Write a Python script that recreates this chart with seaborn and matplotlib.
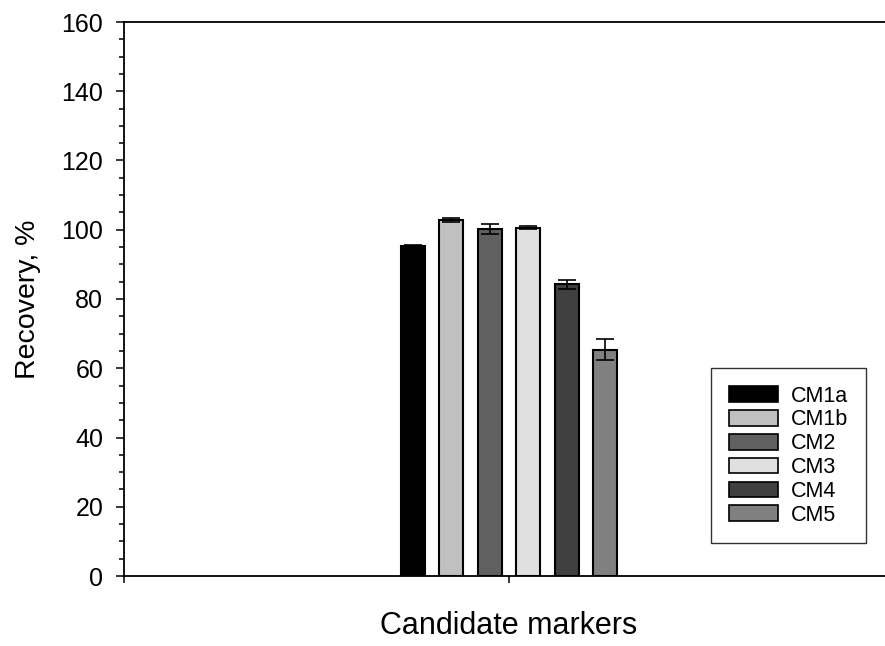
import matplotlib
matplotlib.use("Agg")
import matplotlib.pyplot as plt
import seaborn as sns
import pandas as pd
from matplotlib.ticker import MultipleLocator

markers = ["CM1a", "CM1b", "CM2", "CM3", "CM4", "CM5"]
recovery = [95.2, 102.7, 100.2, 100.6, 84.3, 65.4]
errors = [0.5, 0.6, 1.35, 0.5, 1.3, 3.0]
colors = ["#000000", "#c0c0c0", "#606060", "#e0e0e0", "#404040", "#808080"]
group = [""] * len(markers)

df = pd.DataFrame({"group": group, "marker": markers, "recovery": recovery})

sns.set_style("ticks")
plt.rcParams["font.family"] = ["Liberation Sans", "DejaVu Sans"]
plt.rcParams["text.color"] = "black"
plt.rcParams["axes.labelcolor"] = "black"
plt.rcParams["xtick.color"] = "black"
plt.rcParams["ytick.color"] = "black"

fig = plt.figure(figsize=(8.85, 6.46), dpi=100)
ax = fig.add_axes([124 / 885, 1 - 576 / 646, 770 / 885, 554 / 646])

sns.barplot(data=df, x="group", y="recovery", hue="marker", hue_order=markers,
            palette=colors, width=0.3, gap=0.38, edgecolor="black", linewidth=1.5,
            errorbar=None, ax=ax, legend=True)

# error bars at bar centres
bars = [p for p in ax.patches if p.get_height() > 0][:len(markers)]
xs = [p.get_x() + p.get_width() / 2 for p in bars]
hs = [p.get_height() for p in bars]
ax.errorbar(xs, hs, yerr=errors, fmt="none", ecolor="black", elinewidth=1.2,
            capsize=6.2, capthick=1.2, zorder=5)

ax.set_xlim(-0.5, 0.5)
ax.set_ylim(0, 160)
ax.yaxis.set_major_locator(MultipleLocator(20))
ax.yaxis.set_minor_locator(MultipleLocator(5))
ax.set_xticks([-0.5, 0])
ax.set_xticklabels(["", ""])
ax.tick_params(axis="y", which="major", length=6, width=1.1, labelsize=18,
               colors="black", labelcolor="black", pad=9)
ax.tick_params(axis="y", which="minor", length=3.6, width=1.1, colors="black")
ax.tick_params(axis="x", which="major", length=5, width=1.1, colors="black")

for s in ["left", "bottom", "top"]:
    ax.spines[s].set_visible(True)
    ax.spines[s].set_linewidth(1.3)
    ax.spines[s].set_color("black")
ax.spines["right"].set_visible(False)

ax.set_xlabel("Candidate markers", fontsize=22, color="black")
ax.set_ylabel("Recovery, %", fontsize=20.5, color="black")
ax.xaxis.set_label_coords(0.5, -0.064)
ax.yaxis.set_label_coords(-0.1245, 0.5)
ax.xaxis.label.set_va("top")
ax.yaxis.label.set_va("center")

leg = ax.legend(loc="upper left", bbox_to_anchor=(711 / 885, 1 - 368 / 646),
                bbox_transform=fig.transFigure, fontsize=15.5, frameon=True,
                fancybox=False, borderaxespad=0, handlelength=2.28, handleheight=0.74,
                handletextpad=0.6, labelspacing=0.13, borderpad=0.82)
leg.get_frame().set_edgecolor("black")
leg.get_frame().set_linewidth(1.0)
for t in leg.get_texts():
    t.set_color("black")
for h in leg.legend_handles:
    h.set_edgecolor("black")
    h.set_linewidth(1.2)

fig.savefig("out.png", dpi=100)
